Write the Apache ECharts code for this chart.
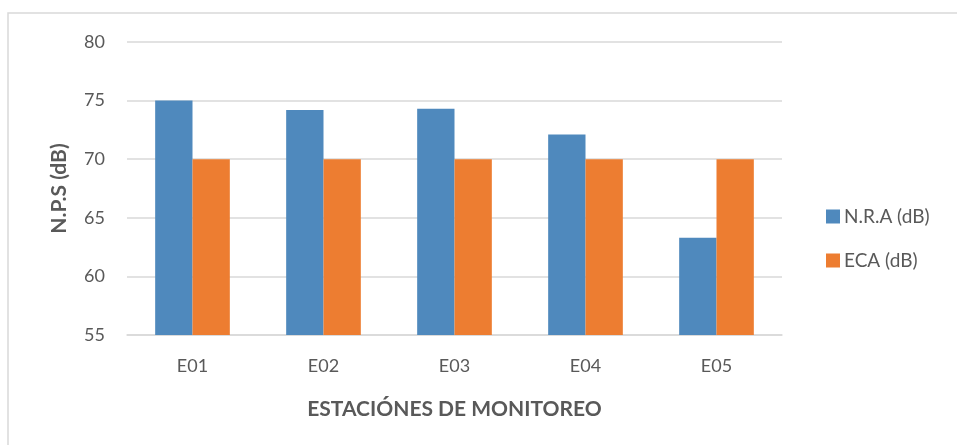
<!DOCTYPE html>
<html>
<head>
<meta charset="utf-8">
<script src="https://cdn.jsdelivr.net/npm/echarts@6/dist/echarts.min.js"></script>
<style>
  html, body { margin: 0; padding: 0; background: #fff; }
  #chart { width: 957px; height: 445px; }
</style>
</head>
<body>
<div id="chart"></div>
<script>
var stations = ['E01', 'E02', 'E03', 'E04', 'E05'];
var nra = [75.0, 74.2, 74.3, 72.1, 63.3];
var eca = [70, 70, 70, 70, 70];
var seriesNames = ['N.R.A (dB)', 'ECA (dB)'];

var font = 'Lato, "Open Sans", sans-serif';
var txt = '#595959';

var myChart = echarts.init(document.getElementById('chart'));
var option = {
  animation: false,
  color: ['#4f89bd', '#ed7d31'],
  graphic: [{
    type: 'rect',
    shape: { x: 8, y: 13, width: 980, height: 460 },
    style: { fill: 'none', stroke: '#d9d9d9', lineWidth: 1.5 },
    silent: true
  }],
  grid: { left: 127, right: 175, top: 42, bottom: 110 },
  legend: {
    orient: 'vertical',
    left: 821, top: 202,
    itemWidth: 14, itemHeight: 14, itemGap: 25,
    icon: 'rect',
    textStyle: { fontFamily: font, fontSize: 19, color: txt, padding: [0, 0, 0, -1] },
    data: seriesNames
  },
  xAxis: {
    type: 'category',
    data: stations,
    name: 'ESTACIÓNES DE MONITOREO',
    nameLocation: 'middle',
    nameGap: 64,
    nameTextStyle: { fontFamily: font, fontSize: 21, fontWeight: 'bold', color: txt },
    axisLine: { lineStyle: { color: '#d9d9d9', width: 1.5 } },
    axisTick: { show: false },
    axisLabel: { fontFamily: font, fontSize: 18, color: txt, margin: 22 }
  },
  yAxis: {
    type: 'value',
    min: 55, max: 80, interval: 5,
    name: 'N.P.S (dB)',
    nameLocation: 'middle',
    nameGap: 57,
    nameTextStyle: { fontFamily: font, fontSize: 21, fontWeight: 'bold', color: txt },
    axisLine: { show: false },
    axisTick: { show: false },
    axisLabel: { fontFamily: font, fontSize: 18, color: txt, margin: 22 },
    splitLine: { lineStyle: { color: '#d9d9d9', width: 1.5 } }
  },
  series: [
    { name: seriesNames[0], type: 'bar', data: nra, barGap: '0%', barCategoryGap: '43%' },
    { name: seriesNames[1], type: 'bar', data: eca, barGap: '0%', barCategoryGap: '43%' }
  ]
};
myChart.setOption(option);
</script>
</body>
</html>
